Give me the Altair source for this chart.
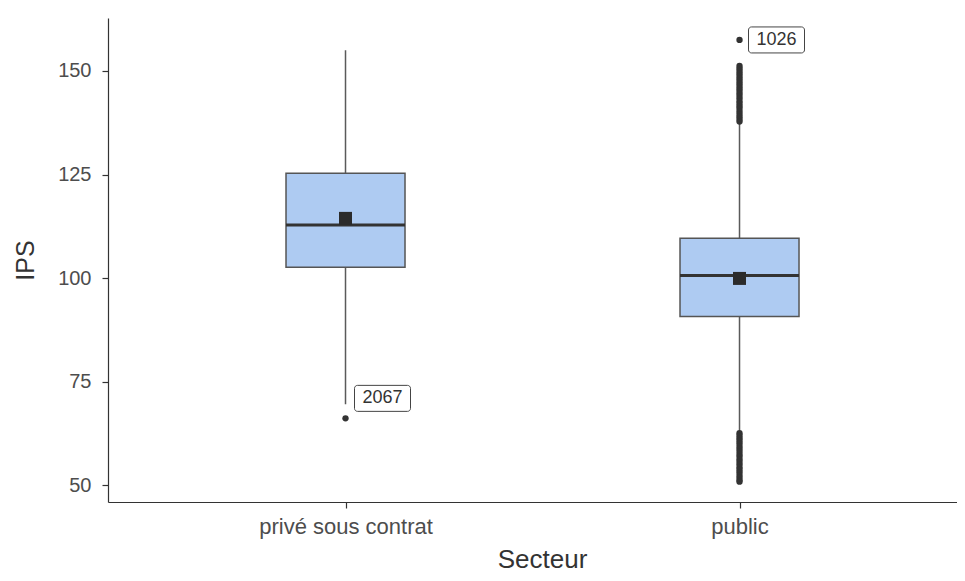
import altair as alt
import pandas as pd

# ---- data ----
categories = ["privé sous contrat", "public"]
q1 = [102.6, 90.7]
median = [112.8, 100.6]
q3 = [125.3, 109.6]
whisker_low = [69.5, 62.9]
whisker_high = [155.0, 137.5]
means = [114.4, 99.9]

outliers_prive = [66.1]
outliers_public = [157.5,
                   151.2, 150.6, 150.0, 149.4, 148.8, 148.2, 147.6, 147.0, 146.4,
                   145.8, 145.2, 144.6, 144.0, 143.4, 142.7, 142.1, 141.5, 140.9,
                   140.2, 139.6, 139.0, 138.4, 137.8,
                   62.5, 61.9, 61.3, 60.7, 60.1, 59.4, 58.8, 58.2, 57.5, 56.9,
                   56.2, 55.6, 55.0, 54.3, 53.7, 53.1, 52.4, 51.8, 51.2, 50.8]

label_cat = ["public", "privé sous contrat"]
label_val = [157.5, 66.1]
label_txt = ["1026", "2067"]

y_ticks = [50, 75, 100, 125, 150]

# ---- tables ----
stats = pd.DataFrame({"secteur": categories, "q1": q1, "median": median, "q3": q3,
                      "lo": whisker_low, "hi": whisker_high, "mean": means})
outl = pd.DataFrame({
    "secteur": [categories[0]] * len(outliers_prive) + [categories[1]] * len(outliers_public),
    "ips": outliers_prive + outliers_public})
labels = pd.DataFrame({"secteur": label_cat, "ips": label_val, "txt": label_txt})

FONT = "Liberation Sans"

xscale = alt.Scale(type="point", domain=categories, padding=0.5774, align=0.522)
yscale = alt.Scale(domain=[45.9, 162.8], nice=False, zero=False)

xenc = alt.X("secteur:N", sort=categories, scale=xscale, title="Secteur",
             axis=alt.Axis(labelAngle=0, domainColor="#333333", domainWidth=1.2,
                           tickColor="#333333", tickSize=6, tickWidth=1.2,
                           labelColor="#4d4d4d", labelFontSize=22, labelFont=FONT,
                           labelPadding=8, titleFont=FONT, titleFontSize=26,
                           titleFontWeight="normal", titleColor="#333333",
                           titleY=65, titleBaseline="alphabetic", titleX=434))

yaxis = alt.Axis(values=y_ticks, grid=False, domainColor="#333333", domainWidth=1.2,
                 tickColor="#333333", tickSize=6, tickWidth=1.2,
                 labelColor="#4d4d4d", labelFontSize=20, labelFont=FONT,
                 labelPadding=11, titleFont=FONT, titleFontSize=25,
                 titleFontWeight="normal", titleColor="#333333",
                 titleX=-83, titleBaseline="middle")

base = alt.Chart(stats)

whiskers = base.mark_rule(color="#5a5a5a", strokeWidth=1.5).encode(
    x=xenc, y=alt.Y("lo:Q", scale=yscale, axis=yaxis, title="IPS"), y2="hi:Q")

boxes = base.mark_bar(size=119, fill="#aecbf2", stroke="#555555", strokeWidth=1.5).encode(
    x=xenc, y=alt.Y("q1:Q", scale=yscale), y2="q3:Q")

medians = base.mark_tick(size=119, thickness=3, color="#333333", opacity=1).encode(
    x=xenc, y=alt.Y("median:Q", scale=yscale))

mean_pts = base.mark_square(size=169, color="#2b2b2b", opacity=1).encode(
    x=xenc, y=alt.Y("mean:Q", scale=yscale))

out_pts = alt.Chart(outl).mark_circle(size=40, color="#333333", opacity=1).encode(
    x=xenc, y=alt.Y("ips:Q", scale=yscale))

lab_top = alt.Chart(labels).transform_filter(alt.datum.txt == "1026")
lab_bot = alt.Chart(labels).transform_filter(alt.datum.txt == "2067")

def label_layers(src, dy):
    box = src.mark_bar(size=56, xOffset=37, yOffset=dy - 13, y2Offset=dy + 13,
                       fill="white", stroke="#444444", strokeWidth=1,
                       cornerRadius=3).encode(
        x=xenc, y=alt.Y("ips:Q", scale=yscale), y2="ips:Q")
    txt = src.mark_text(dx=37, dy=dy, fontSize=18, font=FONT, color="#333333",
                        baseline="middle", align="center").encode(
        x=xenc, y=alt.Y("ips:Q", scale=yscale), text="txt:N")
    return box + txt

chart = alt.layer(
    whiskers, boxes, medians, mean_pts, out_pts,
    label_layers(lab_top, 0), label_layers(lab_bot, -20)
).properties(
    width=849, height=484,
    padding={"left": 100, "top": 10, "right": 0, "bottom": 71},
    autosize="none", background="white"
).configure_view(stroke=None)

chart.save("out.html", embed_options={"renderer": "svg", "actions": False})
